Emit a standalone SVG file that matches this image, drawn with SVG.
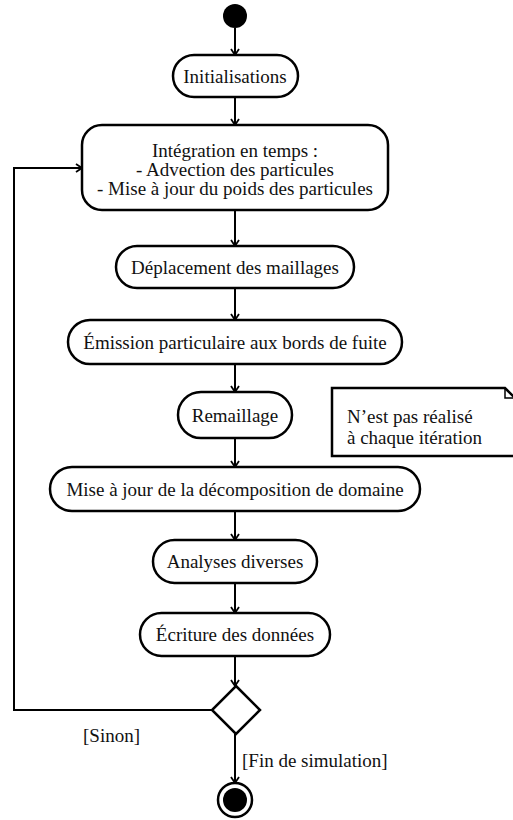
<svg xmlns="http://www.w3.org/2000/svg" width="513" height="820" viewBox="0 0 513 820">
<defs>
<style>
.act{fill:#fff;stroke:#000;stroke-width:2.5}
.t{font-family:"Liberation Serif","Times New Roman",serif;font-size:19px;fill:#111;text-anchor:middle}
.tl{font-family:"Liberation Serif","Times New Roman",serif;font-size:19px;fill:#111}
.c{fill:none;stroke:#000;stroke-width:2}
</style>
<marker id="arr" markerWidth="10" markerHeight="10" refX="8" refY="5" orient="auto" markerUnits="userSpaceOnUse">
<path d="M2,1 L8,5 L2,9" fill="none" stroke="#000" stroke-width="1.8"/>
</marker>
</defs>
<rect width="513" height="820" fill="#fff"/>
<g id="connectors">
<line class="c" x1="235" y1="28" x2="235" y2="55" marker-end="url(#arr)"/>
<line class="c" x1="235" y1="97" x2="235" y2="125" marker-end="url(#arr)"/>
<line class="c" x1="235" y1="210" x2="235" y2="246" marker-end="url(#arr)"/>
<line class="c" x1="235" y1="288" x2="235" y2="320" marker-end="url(#arr)"/>
<line class="c" x1="235" y1="364" x2="235" y2="392" marker-end="url(#arr)"/>
<line class="c" x1="235" y1="438" x2="235" y2="467" marker-end="url(#arr)"/>
<line class="c" x1="235" y1="511" x2="235" y2="540" marker-end="url(#arr)"/>
<line class="c" x1="235" y1="583" x2="235" y2="613" marker-end="url(#arr)"/>
<line class="c" x1="235" y1="656" x2="235" y2="686" marker-end="url(#arr)"/>
<line class="c" x1="235" y1="734" x2="235" y2="783" marker-end="url(#arr)"/>
<polyline class="c" points="212,710 14,710 14,168 82,168" marker-end="url(#arr)"/>
<text class="tl" x="83" y="742">[Sinon]</text>
<text class="tl" x="242" y="767">[Fin de simulation]</text>
</g>
<g id="start"><circle cx="235" cy="16" r="12" fill="#000"/></g>
<g id="init">
<rect class="act" x="173" y="55" width="125" height="42" rx="21"/>
<text class="t" x="235" y="83">Initialisations</text>
</g>
<g id="integration">
<rect class="act" x="82" y="125" width="306" height="85" rx="20"/>
<text class="t" x="235" y="157">Intégration en temps :</text>
<text class="t" x="235" y="176">- Advection des particules</text>
<text class="t" x="235" y="195">- Mise à jour du poids des particules</text>
</g>
<g id="deplacement">
<rect class="act" x="116" y="246" width="238" height="42" rx="21"/>
<text class="t" x="235" y="274">Déplacement des maillages</text>
</g>
<g id="emission">
<rect class="act" x="68" y="320" width="334" height="44" rx="22"/>
<text class="t" x="235" y="349">Émission particulaire aux bords de fuite</text>
</g>
<g id="remaillage">
<rect class="act" x="178" y="392" width="114" height="46" rx="23"/>
<text class="t" x="235" y="422">Remaillage</text>
</g>
<g id="note">
<polygon points="332,388 505,388 515,398 515,456 332,456" fill="#fff" stroke="#000" stroke-width="2.5"/>
<polyline points="505,388 505,398 515,398" fill="none" stroke="#000" stroke-width="1.5"/>
<text class="tl" x="347" y="423">N’est pas réalisé</text>
<text class="tl" x="347" y="444">à chaque itération</text>
</g>
<g id="decomposition">
<rect class="act" x="50" y="467" width="370" height="44" rx="22"/>
<text class="t" x="235" y="496">Mise à jour de la décomposition de domaine</text>
</g>
<g id="analyses">
<rect class="act" x="153" y="540" width="164" height="43" rx="21.5"/>
<text class="t" x="235" y="568">Analyses diverses</text>
</g>
<g id="ecriture">
<rect class="act" x="140" y="613" width="190" height="43" rx="21.5"/>
<text class="t" x="235" y="641">Écriture des données</text>
</g>
<g id="decision">
<polygon points="236,686 260,710 236,734 212,710" fill="#fff" stroke="#000" stroke-width="2.5"/>
</g>
<g id="end">
<circle cx="235" cy="800" r="17" fill="#fff" stroke="#000" stroke-width="2.5"/>
<circle cx="235" cy="800" r="12" fill="#000"/>
</g>
</svg>
